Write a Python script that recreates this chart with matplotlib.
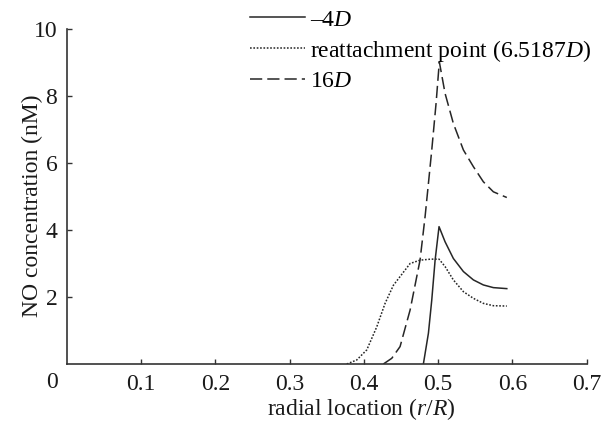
import matplotlib
matplotlib.use('Agg')
import matplotlib.pyplot as plt

plt.rcParams['font.family'] = 'Liberation Serif'
plt.rcParams['mathtext.fontset'] = 'custom'
plt.rcParams['mathtext.rm'] = 'Liberation Serif'
plt.rcParams['mathtext.it'] = 'Liberation Serif:italic'

# -4D (solid)
x_m4 = [0.4802, 0.487, 0.4915, 0.496, 0.5013, 0.5094, 0.5206, 0.5341, 0.5476, 0.561, 0.5745, 0.5926]
y_m4 = [0.0, 0.92, 1.91, 3.1, 4.1, 3.65, 3.15, 2.76, 2.51, 2.36, 2.28, 2.25]

# reattachment point (dotted)
x_re = [0.377, 0.3904, 0.4039, 0.4174, 0.4286, 0.4398, 0.4488, 0.4623, 0.4757, 0.4902, 0.5013,
        0.5094, 0.5206, 0.5341, 0.5476, 0.561, 0.5745, 0.5926]
y_re = [0.0, 0.12, 0.42, 1.11, 1.81, 2.35, 2.61, 3.0, 3.1, 3.13, 3.13,
        2.91, 2.51, 2.16, 1.96, 1.81, 1.74, 1.73]

# 16D (dashed)
x_16 = [0.4263, 0.4376, 0.4488, 0.4623, 0.4757, 0.4825, 0.487, 0.4915, 0.4973, 0.5017,
        0.5094, 0.5206, 0.5341, 0.5476, 0.561, 0.5745, 0.5926]
y_16 = [0.0, 0.17, 0.52, 1.61, 3.1, 4.4, 5.39, 6.39, 7.78, 9.02,
        8.08, 7.18, 6.39, 5.89, 5.44, 5.14, 4.97]

labels = ['\u2013' + r'4$D$', r'reattachment point (6.5187$D$)', r'16$D$']
xticks = [0.1, 0.2, 0.3, 0.4, 0.5, 0.6, 0.7]
yticks = [2, 4, 6, 8, 10]

FS = 17
fig = plt.figure(figsize=(6.03, 4.21), dpi=100)
ax = fig.add_axes([67/603, 1-364/421, (586.5-67)/603, (364-29)/421])

lc = '#262626'
ax.plot(x_m4, y_m4, color=lc, lw=1.1, ls='-', label=labels[0])
ax.plot(x_re, y_re, color=lc, lw=1.1, ls=(0, (1.1, 1.1)), label=labels[1])
ax.plot(x_16, y_16, color=lc, lw=1.1, ls=(0, (8, 3.3)), label=labels[2])

ax.set_xlim(0, 0.7)
ax.set_ylim(0, 10)
ax.set_xticks(xticks)
ax.set_xticklabels([f'{t:.1f}' for t in xticks])
ax.set_yticks(yticks)
ax.set_yticklabels([str(t) for t in yticks])

for s in ['top', 'right']:
    ax.spines[s].set_visible(False)
for s in ['left', 'bottom']:
    ax.spines[s].set_color('#333333')
    ax.spines[s].set_linewidth(1.2)

ax.tick_params(direction='in', length=3.5, width=1.0, color='#333333',
               labelsize=FS, labelcolor='#1a1a1a')
ax.tick_params(axis='x', pad=7)
ax.tick_params(axis='y', pad=7)

ax.annotate('0', xy=(0, 0), xycoords='data', xytext=(-11, -13.5),
            textcoords='offset points', ha='center', va='center', fontsize=FS, color='#1a1a1a')

ax.set_xlabel(r'radial location ($r$/$R$)', fontsize=FS, color='#1a1a1a')
ax.xaxis.set_label_coords((361-67)/(586.5-67), -(396-364)/335, transform=ax.transAxes)
ax.set_ylabel('NO concentration (nM)', fontsize=FS, color='#1a1a1a')
ax.yaxis.set_label_coords(-(67-43)/(586.5-67), (364-206)/335, transform=ax.transAxes)

fig.legend(loc='upper left', bbox_to_anchor=(250/603, 1-9/421), frameon=False,
           fontsize=FS, handlelength=2.35, handletextpad=0.2, labelspacing=0.3,
           borderpad=0, borderaxespad=0)

fig.savefig('out.png', dpi=100)
